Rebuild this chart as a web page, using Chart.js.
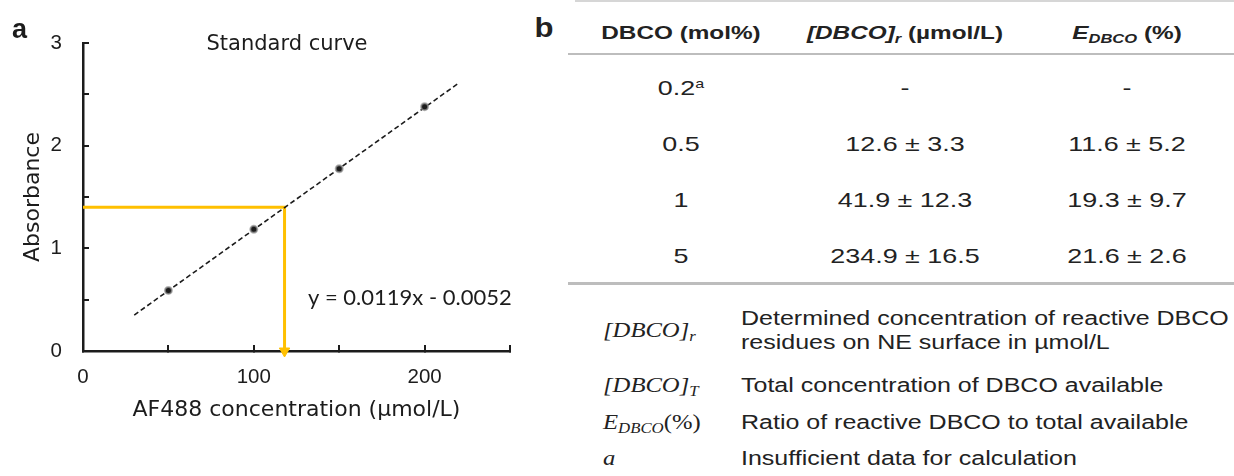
<!DOCTYPE html>
<html lang="en">
<head>
    <meta charset="UTF-8">
    <title>Standard curve and DBCO table</title>
    <script src="https://cdn.jsdelivr.net/npm/chart.js"></script>
    <style>
        body {
            margin: 0;
            background: #fff;
            font-family: 'Liberation Sans', Arial, sans-serif;
            color: #222;
        }
        #page {
            position: relative;
            width: 1234px;
            height: 476px;
            overflow: hidden;
        }
        #chartBox {
            position: absolute;
            left: 0;
            top: 0;
            width: 530px;
            height: 476px;
        }
        .t {
            position: absolute;
            white-space: nowrap;
            line-height: 1;
            transform: translate(-50%, -50%) scaleX(1.28);
        }
        .l {
            position: absolute;
            white-space: nowrap;
            line-height: 1;
            transform-origin: left center;
            transform: translateY(-50%) scaleX(1.25);
        }
        .sub { font-size: 0.68em; position: relative; top: 0.28em; }
        .sup { font-size: 0.6em; position: relative; top: -0.55em; }
        .serif { font-family: 'Liberation Serif', serif; font-style: italic; transform: translateY(-50%) scaleX(1.12); }
        .rule { position: absolute; background: #bdbdbd; }
    </style>
</head>
<body>
<div id="page">
    <div id="chartBox"><canvas id="curve"></canvas></div>
    <div id="table"></div>
</div>

<script>
    // standard curve points (AF488 concentration vs absorbance)
    const concentration = [50, 100, 150, 200];
    const absorbance = [0.59, 1.185, 1.775, 2.38];

    // fitted line end points as drawn
    const fitX = [30, 220];
    const fitY = [0.35, 2.61];
    const fitLabel = 'y = 0.0119x - 0.0052';

    // sample read-out (orange guide)
    const sampleAbs = 1.4;
    const sampleConc = 118;

    // table b
    const dbcoMol = ['0.2', '0.5', '1', '5'];
    const dbcoConc = ['-', '12.6 ± 3.3', '41.9 ± 12.3', '234.9 ± 16.5'];
    const dbcoEff = ['-', '11.6 ± 5.2', '19.3 ± 9.7', '21.6 ± 2.6'];

    const ink = '#1c1c1c';
    const orange = '#FFC000';

    const panelText = {
        id: 'panelText',
        afterDraw(chart) {
            const ctx = chart.ctx;
            ctx.save();
            ctx.fillStyle = ink;
            ctx.textBaseline = 'middle';
            ctx.textAlign = 'center';
            ctx.font = '21px "DejaVu Sans"';
            ctx.fillText('Standard curve', 287, 45);
            ctx.textAlign = 'left';
            ctx.font = '22px Lato';
            ctx.fillText(fitLabel, 308, 298);
            ctx.font = 'bold 27px "Liberation Sans"';
            ctx.fillText('a', 12, 31);
            ctx.restore();
        }
    };

    const axisTicks = {
        display: true,
        drawOnChartArea: false,
        drawTicks: true,
        tickLength: -6,
        color: ink,
        lineWidth: 2
    };

    new Chart(document.getElementById('curve'), {
        type: 'scatter',
        data: {
            datasets: [
                {
                    label: 'AF488',
                    data: concentration.map((x, i) => ({ x: x, y: absorbance[i] })),
                    pointRadius: 3.5,
                    backgroundColor: ink,
                    borderColor: 'rgba(150,150,150,0.7)',
                    borderWidth: 2
                },
                {
                    label: 'fit',
                    type: 'line',
                    data: fitX.map((x, i) => ({ x: x, y: fitY[i] })),
                    borderColor: ink,
                    borderWidth: 1.6,
                    borderDash: [5, 3],
                    pointRadius: 0,
                    fill: false
                },
                {
                    label: 'sample',
                    type: 'line',
                    data: [
                        { x: 0, y: sampleAbs },
                        { x: sampleConc, y: sampleAbs },
                        { x: sampleConc, y: 0 }
                    ],
                    borderColor: orange,
                    borderWidth: 3,
                    tension: 0,
                    fill: false,
                    clip: false,
                    pointRadius: [0, 0, 6],
                    pointStyle: 'triangle',
                    rotation: [0, 0, 180],
                    pointBackgroundColor: orange,
                    pointBorderColor: orange,
                    pointBorderWidth: 1
                }
            ]
        },
        options: {
            responsive: true,
            maintainAspectRatio: false,
            animation: false,
            layout: { padding: { left: 0, right: 19, top: 43, bottom: 0 } },
            plugins: {
                legend: { display: false },
                tooltip: { enabled: false }
            },
            scales: {
                x: {
                    type: 'linear',
                    min: 0,
                    max: 250,
                    afterFit: s => { s.height = 125; },
                    border: { color: ink, width: 2.5 },
                    grid: axisTicks,
                    ticks: {
                        stepSize: 50,
                        autoSkip: false,
                        maxRotation: 0,
                        padding: 20,
                        color: ink,
                        font: { family: 'Liberation Sans', size: 20.5 },
                        callback: v => (v % 100 === 0 ? v : '')
                    },
                    title: {
                        display: true,
                        text: 'AF488 concentration (µmol/L)',
                        color: ink,
                        font: { family: 'DejaVu Sans', size: 22 },
                        padding: { top: 0, bottom: 52.8 }
                    }
                },
                y: {
                    min: 0,
                    max: 3,
                    afterFit: s => { s.width = 83; },
                    border: { color: ink, width: 2.5 },
                    grid: axisTicks,
                    ticks: {
                        stepSize: 0.5,
                        autoSkip: false,
                        padding: 27,
                        color: ink,
                        font: { family: 'Liberation Sans', size: 20.5 },
                        callback: v => (Number.isInteger(v) ? v : '')
                    },
                    title: {
                        display: true,
                        text: 'Absorbance',
                        color: ink,
                        font: { family: 'DejaVu Sans', size: 22 },
                        padding: { top: 20, bottom: 0 }
                    }
                }
            }
        },
        plugins: [panelText]
    });

    // ---- table b ----
    const table = document.getElementById('table');
    function put(cls, html, x, y, style) {
        const d = document.createElement('div');
        d.className = cls;
        d.innerHTML = html;
        d.style.left = x + 'px';
        d.style.top = y + 'px';
        if (style) d.style.cssText += style;
        table.appendChild(d);
        return d;
    }
    function rule(x, y, w, h, color) {
        const d = document.createElement('div');
        d.className = 'rule';
        d.style.cssText = `left:${x}px;top:${y}px;width:${w}px;height:${h}px;` + (color ? `background:${color};` : '');
        table.appendChild(d);
    }

    const colX = [681, 905, 1127];
    const headFont = 'font-weight:bold;font-size:19px;';
    const cellFont = 'font-size:21px;';

    put('t', 'b', 544, 28, 'font-weight:bold;font-size:27px;transform:translate(-50%,-50%) scaleX(1.15);');
    put('t', 'DBCO (mol%)', colX[0], 32, headFont);
    put('t', '<i>[DBCO]<span class="sub">r</span></i> (µmol/L)', colX[1], 32, headFont);
    put('t', '<i>E<span class="sub">DBCO</span></i> (%)', colX[2], 32, headFont);

    rule(575, 0, 659, 2, '#d6d6d6');
    rule(568, 53, 666, 2);
    rule(568, 282, 666, 3);

    dbcoMol.forEach((m, i) => {
        const y = 87 + i * 56;
        put('t', i === 0 ? m + '<span class="sup">a</span>' : m, colX[0], y, cellFont);
        put('t', dbcoConc[i], colX[1], y, cellFont);
        put('t', dbcoEff[i], colX[2], y, cellFont);
    });

    // legend
    const legendFont = 'font-size:20px;';
    const symFont = 'font-size:22px;';
    const textX = 741;
    put('l serif', '[DBCO]<span class="sub">r</span>', 603, 330, symFont);
    put('l', 'Determined concentration of reactive DBCO', textX, 318, legendFont);
    put('l', 'residues on NE surface in µmol/L', textX, 342, legendFont);
    put('l serif', '[DBCO]<span class="sub">T</span>', 603, 385, symFont);
    put('l', 'Total concentration of DBCO available', textX, 385, legendFont);
    put('l serif', 'E<span class="sub">DBCO</span><span style="font-style:normal">(%)</span>', 603, 422, symFont);
    put('l', 'Ratio of reactive DBCO to total available', textX, 422, legendFont);
    put('l serif', 'a', 603, 458, symFont);
    put('l', 'Insufficient data for calculation', textX, 458, legendFont);
</script>
</body>
</html>
